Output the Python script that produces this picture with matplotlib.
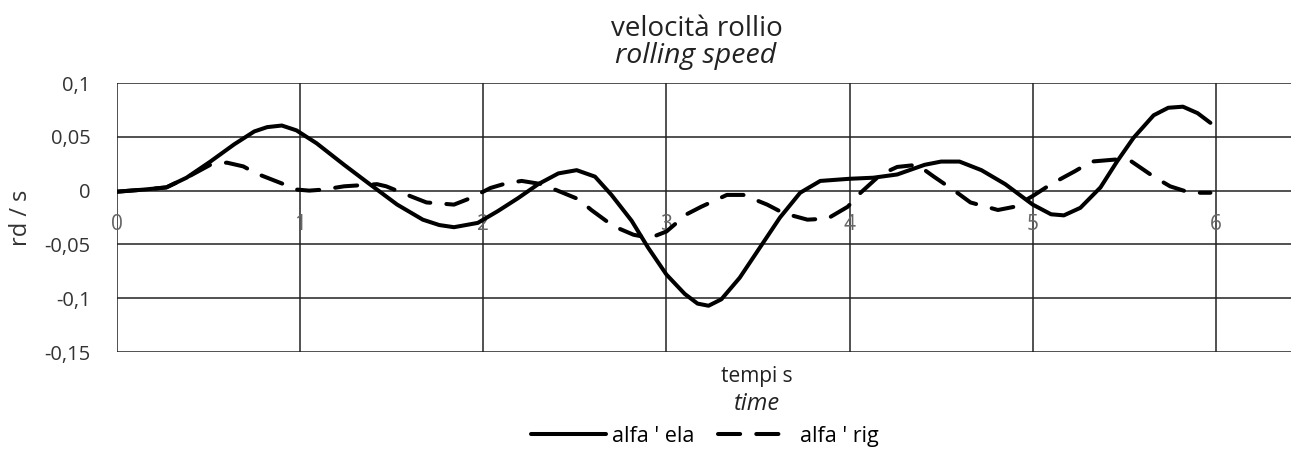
import matplotlib
matplotlib.use("Agg")
import matplotlib.pyplot as plt

plt.rcParams['font.family'] = ['Open Sans', 'DejaVu Sans']

# alfa ' ela (solid)
ela_t = [0.00, 0.15, 0.27, 0.38, 0.51, 0.64, 0.75, 0.82, 0.90, 0.98, 1.09, 1.24,
         1.38, 1.53, 1.67, 1.76, 1.84, 1.97, 2.08, 2.19, 2.30, 2.41, 2.51, 2.61,
         2.70, 2.81, 2.90, 3.00, 3.10, 3.17, 3.23, 3.30, 3.40, 3.51, 3.62, 3.73,
         3.84, 4.00, 4.13, 4.26, 4.41, 4.50, 4.60, 4.72, 4.85, 5.00, 5.10, 5.17,
         5.26, 5.37, 5.46, 5.55, 5.66, 5.74, 5.82, 5.90, 5.97]
ela_v = [-0.001, 0.001, 0.003, 0.012, 0.027, 0.043, 0.055, 0.059, 0.0605, 0.056,
         0.044, 0.024, 0.006, -0.013, -0.027, -0.032, -0.034, -0.030, -0.019,
         -0.007, 0.006, 0.016, 0.019, 0.013, -0.004, -0.028, -0.053, -0.078,
         -0.096, -0.105, -0.107, -0.101, -0.081, -0.053, -0.025, -0.002, 0.009,
         0.011, 0.012, 0.015, 0.024, 0.027, 0.027, 0.019, 0.006, -0.013, -0.022,
         -0.023, -0.016, 0.003, 0.027, 0.049, 0.070, 0.077, 0.078, 0.072, 0.063]

# alfa ' rig (dashed)
rig_t = [0.00, 0.15, 0.27, 0.38, 0.51, 0.60, 0.69, 0.76, 0.91, 0.98, 1.05, 1.13,
         1.24, 1.42, 1.47, 1.60, 1.69, 1.84, 1.93, 2.04, 2.13, 2.21, 2.32, 2.37,
         2.52, 2.59, 2.71, 2.82, 2.91, 3.00, 3.11, 3.19, 3.33, 3.42, 3.55, 3.64,
         3.77, 3.88, 3.99, 4.06, 4.17, 4.26, 4.37, 4.46, 4.58, 4.66, 4.81, 4.90,
         5.00, 5.10, 5.23, 5.32, 5.46, 5.54, 5.66, 5.75, 5.86, 5.97]
rig_v = [-0.001, 0.001, 0.003, 0.012, 0.024, 0.026, 0.0225, 0.016, 0.006, 0.001,
         0.000, 0.001, 0.004, 0.006, 0.004, -0.005, -0.011, -0.013, -0.007,
         0.0025, 0.007, 0.009, 0.006, 0.0025, -0.008, -0.018, -0.033, -0.041,
         -0.044, -0.038, -0.022, -0.015, -0.004, -0.004, -0.013, -0.021, -0.027,
         -0.026, -0.015, -0.002, 0.015, 0.022, 0.024, 0.013, -0.001, -0.011,
         -0.018, -0.015, -0.005, 0.006, 0.018, 0.027, 0.029, 0.027, 0.013,
         0.004, -0.002, -0.002]

x_ticks = [0, 1, 2, 3, 4, 5, 6]
y_ticks = [-0.15, -0.1, -0.05, 0, 0.05, 0.1]
y_labels = ['-0,15', '-0,1', '-0,05', '0', '0,05', '0,1']

fig = plt.figure(figsize=(12.98, 4.63), dpi=100)
ax = fig.add_axes([0.0901, 0.2397, 0.9045, 0.581])

ax.plot(ela_t, ela_v, color='black', lw=2.9, solid_capstyle='round',
        solid_joinstyle='round', label="alfa ' ela")
ax.plot(rig_t, rig_v, color='black', lw=2.9, dashes=(5.5, 4),
        dash_capstyle='round', dash_joinstyle='round', label="alfa ' rig")

ax.set_xlim(0, 6.41)
ax.set_ylim(-0.15, 0.1)
ax.set_xticks(x_ticks)
ax.set_yticks(y_ticks)
ax.set_yticklabels(y_labels)
ax.grid(True, color='#222222', lw=1.1)
ax.set_axisbelow(True)
for s in ['top', 'right', 'left']:
    ax.spines[s].set_visible(False)
# x labels sit under the zero line
ax.spines['bottom'].set_position(('data', 0))
ax.spines['bottom'].set_visible(False)
ax.tick_params(axis='x', length=0, pad=17, labelsize=15, labelcolor='#666666')
ax.tick_params(axis='y', length=0, pad=19, labelsize=14.5, labelcolor='#333333')

ax.set_ylabel('rd / s', fontsize=17, color='#333333', labelpad=8)

# two-line title, second line italic
fig.text(0.537, 0.922, 'velocità rollio', ha='center', va='baseline',
         fontsize=20, color='#222222')
fig.text(0.536, 0.864, 'rolling speed', ha='center', va='baseline',
         fontsize=20.5, style='italic', color='#222222')

fig.text(0.583, 0.175, 'tempi s', ha='center', va='baseline', fontsize=15,
         color='#222222')
fig.text(0.583, 0.1145, 'time', ha='center', va='baseline', fontsize=17,
         style='italic', color='#222222')

fig.legend(loc='center', bbox_to_anchor=(0.543, 0.058), ncol=2, frameon=False,
           fontsize=15.5, handlelength=3.5, handletextpad=0.3, columnspacing=1.1)

fig.savefig('out.png', dpi=100)
